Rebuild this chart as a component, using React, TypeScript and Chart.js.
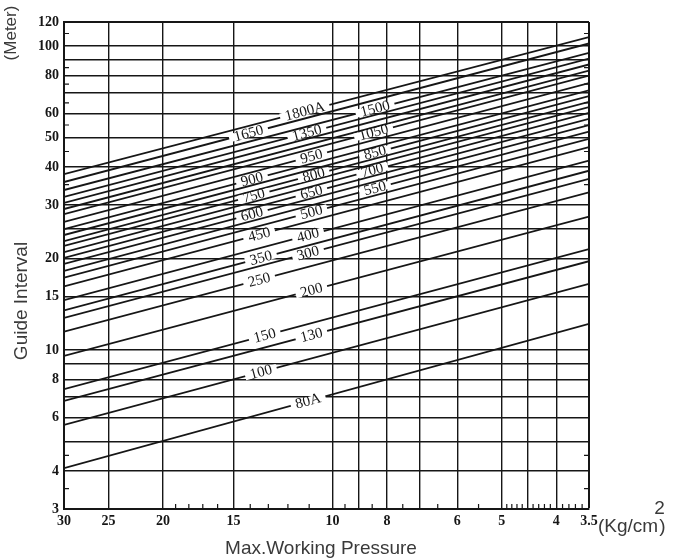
import React, { useEffect, useRef } from 'react';
import { Chart, registerables } from 'chart.js';

Chart.register(...registerables);

// Axis ticks (pressure, kg/cm2 – reversed log axis)
const pressureGrid = [30, 25, 20, 15, 10, 9, 8, 7, 6, 5, 4.5, 4, 3.5];
const pressureLabels = [30, 25, 20, 15, 10, 8, 6, 5, 4, 3.5];
const pressureMinor = [19, 18, 17, 16, 14, 13, 12, 11, 9.5, 8.5, 7.5, 6.5, 5.5, 4.9, 4.8, 4.7, 4.6, 4.4, 4.3, 4.2, 4.1, 3.9, 3.8, 3.7, 3.6];

// Guide interval (meter – log axis)
const intervalGrid = [3, 4, 5, 6, 7, 8, 9, 10, 15, 20, 25, 30, 40, 50, 60, 70, 80, 90, 100, 120];
const intervalLabels = [3, 4, 6, 8, 10, 15, 20, 30, 40, 50, 60, 80, 100, 120];
const intervalMinor = [3.5, 4.5, 35, 45, 55, 65, 75, 85, 110];

// Pipe sizes (one straight line each)
const pipeSizes = ['1800A', '1650', '1500', '1350', '1200', '1100', '1050', '950', '900', '850', '800', '750', '700', '650', '600', '550', '500', '450', '400', '350', '300', '250', '200', '150', '130', '100', '80A'];
const showLabel = [true, true, true, true, false, false, true, true, true, true, true, true, true, true, true, true, true, true, true, true, true, true, true, true, true, true, true];
// Guide interval read at 30 kg/cm2 (left edge)
const intervalAt30 = [37.9, 35.7, 33.6, 31.9, 30.5, 29.1, 28.0, 26.4, 25.0, 23.9, 22.8, 22.0, 21.0, 20.1, 19.2, 18.2, 17.3, 16.2, 14.6, 13.5, 12.75, 11.5, 9.56, 7.44, 6.8, 5.67, 4.09];
// Guide interval read at 3.5 kg/cm2 (right edge)
const intervalAt35 = [107, 102, 95, 91, 87, 83, 80, 75.5, 71.5, 68.5, 65.5, 63, 60.3, 57.6, 55, 52.3, 49.5, 46.5, 42, 38.9, 36.6, 33, 27.5, 21.5, 19.6, 16.5, 12.2];

// Layout: pressure at which each line's label sits
const labelPressure = [11.2, 14.1, 8.4, 11.1, 0, 0, 8.45, 10.9, 13.9, 8.4, 10.8, 13.8, 8.5, 10.9, 13.9, 8.4, 10.9, 13.5, 11.05, 13.4, 11.05, 13.5, 10.9, 13.2, 10.9, 13.4, 11.05];

const INK = '#161616';

const minorTickPlugin = {
  id: 'minorTicks',
  beforeDatasetsDraw(chart: any) {
    const { ctx, chartArea, scales } = chart;
    const x = scales.x;
    const y = scales.y;
    ctx.save();
    ctx.strokeStyle = INK;
    ctx.lineWidth = 1.2;
    ctx.beginPath();
    pressureMinor.forEach((p) => {
      const px = x.getPixelForValue(p);
      ctx.moveTo(px, chartArea.bottom);
      ctx.lineTo(px, chartArea.bottom - 5);
    });
    intervalMinor.forEach((v) => {
      const py = y.getPixelForValue(v);
      ctx.moveTo(chartArea.left, py);
      ctx.lineTo(chartArea.left + 5, py);
      ctx.moveTo(chartArea.right, py);
      ctx.lineTo(chartArea.right - 5, py);
    });
    ctx.stroke();
    ctx.restore();
  },
};

const pipeLabelPlugin = {
  id: 'pipeLabels',
  afterDatasetsDraw(chart: any) {
    const { ctx, scales } = chart;
    const x = scales.x;
    const y = scales.y;
    ctx.save();
    ctx.font = '15px "Liberation Serif", "DejaVu Serif", serif';
    ctx.textAlign = 'center';
    ctx.textBaseline = 'middle';
    chart.data.datasets.forEach((ds: any, i: number) => {
      if (!showLabel[i]) return;
      const x0 = x.getPixelForValue(ds.data[0].x);
      const y0 = y.getPixelForValue(ds.data[0].y);
      const x1 = x.getPixelForValue(ds.data[1].x);
      const y1 = y.getPixelForValue(ds.data[1].y);
      const px = x.getPixelForValue(labelPressure[i]);
      const t = (px - x0) / (x1 - x0);
      const py = y0 + t * (y1 - y0);
      const ang = Math.atan2(y1 - y0, x1 - x0);
      const text = pipeSizes[i];
      const w = ctx.measureText(text).width;
      ctx.save();
      ctx.translate(px, py);
      ctx.rotate(ang);
      ctx.fillStyle = '#ffffff';
      ctx.fillRect(-w / 2 - 5, -4, w + 10, 8);
      ctx.fillStyle = INK;
      ctx.fillText(text, 0, 0.5);
      ctx.restore();
    });
    ctx.restore();
  },
};

const titlePlugin = {
  id: 'titles',
  afterDraw(chart: any) {
    const { ctx } = chart;
    ctx.save();
    ctx.fillStyle = '#3a3a3a';
    ctx.textAlign = 'center';
    ctx.textBaseline = 'middle';
    ctx.font = '19px "Liberation Sans", Arial, sans-serif';
    ctx.save();
    ctx.translate(22, 301);
    ctx.rotate(-Math.PI / 2);
    ctx.fillText('Guide Interval', 0, 0);
    ctx.restore();

    ctx.font = '17px "Liberation Sans", Arial, sans-serif';
    ctx.save();
    ctx.translate(11, 33);
    ctx.rotate(-Math.PI / 2);
    ctx.fillText('(Meter)', 0, 0);
    ctx.restore();

    ctx.font = '19px "Liberation Sans", Arial, sans-serif';
    ctx.fillText('Max.Working Pressure', 321, 549);

    ctx.font = '19px "Liberation Sans", Arial, sans-serif';
    ctx.textAlign = 'left';
    const base = '(Kg/cm';
    const bw = ctx.measureText(base).width;
    const x0 = 598;
    ctx.fillText(base, x0, 527);
    ctx.fillText(')', x0 + bw + 1, 527);
    ctx.fillText('2', x0 + bw - 4, 509);
    ctx.restore();
  },
};

export default function App() {
  const canvasRef = useRef<HTMLCanvasElement | null>(null);

  useEffect(() => {
    if (!canvasRef.current) return;
    const datasets = pipeSizes.map((name, i) => ({
      label: name,
      data: [
        { x: 30, y: intervalAt30[i] },
        { x: 3.5, y: intervalAt35[i] },
      ],
      borderColor: INK,
      borderWidth: 1.8,
      pointRadius: 0,
      fill: false,
      tension: 0,
    }));

    const chart = new Chart(canvasRef.current, {
      type: 'line',
      data: { datasets },
      plugins: [minorTickPlugin, pipeLabelPlugin, titlePlugin],
      options: {
        responsive: false,
        animation: false,
        devicePixelRatio: 1,
        layout: { padding: { top: 22, right: 86, left: 0, bottom: 0 } },
        plugins: {
          legend: { display: false },
          tooltip: { enabled: false },
          title: { display: false },
        },
        scales: {
          x: {
            type: 'logarithmic',
            reverse: true,
            min: 3.5,
            max: 30,
            afterBuildTicks: (scale: any) => {
              scale.ticks = pressureGrid.map((v) => ({ value: v }));
            },
            afterFit: (scale: any) => {
              scale.height = 51;
            },
            ticks: {
              autoSkip: false,
              maxRotation: 0,
              minRotation: 0,
              padding: 4,
              color: INK,
              font: { family: '"Liberation Serif", serif', size: 14, weight: 'bold' },
              callback: (v: any) => (pressureLabels.includes(Number(v)) ? String(v) : ''),
            },
            grid: {
              color: INK,
              lineWidth: (c: any) => (c.tick && c.tick.value === 3.5 ? 2 : 1.4),
              drawTicks: false,
            },
            border: { display: true, color: INK, width: 2 },
          },
          y: {
            type: 'logarithmic',
            min: 3,
            max: 120,
            afterBuildTicks: (scale: any) => {
              scale.ticks = intervalGrid.map((v) => ({ value: v }));
            },
            afterFit: (scale: any) => {
              scale.width = 64;
            },
            ticks: {
              autoSkip: false,
              padding: 5,
              color: INK,
              font: { family: '"Liberation Serif", serif', size: 14, weight: 'bold' },
              callback: (v: any) => (intervalLabels.includes(Number(v)) ? String(v) : ''),
            },
            grid: {
              color: INK,
              lineWidth: (c: any) => (c.tick && c.tick.value === 120 ? 2 : 1.4),
              drawTicks: false,
            },
            border: { display: true, color: INK, width: 2 },
          },
        },
      } as any,
    });
    return () => chart.destroy();
  }, []);

  return (
    <div style={{ position: 'fixed', left: 0, top: 0, width: 675, height: 560, background: '#fff' }}>
      <canvas ref={canvasRef} width={675} height={560} style={{ display: 'block' }} />
    </div>
  );
}
